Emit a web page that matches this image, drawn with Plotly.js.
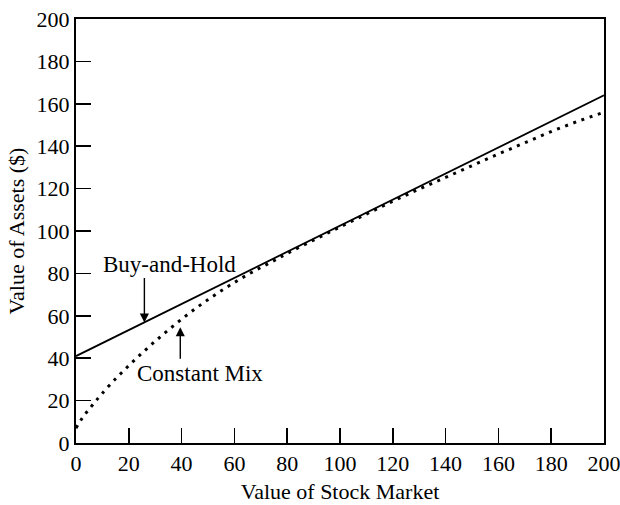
<!DOCTYPE html>
<html>
<head>
<meta charset="utf-8">
<script src="https://cdn.plot.ly/plotly-3.0.1.min.js"></script>
<style>
  html, body { margin: 0; padding: 0; background: #fff; }
  #chart { width: 620px; height: 505px; }
</style>
</head>
<body>
<div id="chart"></div>
<script>
// Buy-and-Hold strategy (straight line)
const buyHoldX = [0, 200];
const buyHoldY = [41, 164];

// Constant Mix strategy (dotted curve)
const constantMixX = [0, 2.5, 5, 7.5, 10, 15, 20, 25, 30, 35, 40, 45, 50, 55, 60, 65, 70, 75, 80, 90, 100, 110, 120, 130, 140, 150, 160, 170, 180, 190, 200];
const constantMixY = [7, 12, 16, 19.8, 23.5, 30.3, 36.5, 42.4, 48, 53.3, 58.4, 63.2, 67.6, 71.8, 75.7, 79.4, 82.8, 86, 89.4, 95.7, 101.9, 108, 114, 119.8, 125.3, 130.8, 136.3, 141.6, 146.9, 151.7, 156];

// Axis ticks
const xTicks = [0, 20, 40, 60, 80, 100, 120, 140, 160, 180, 200];
const yTicks = [0, 20, 40, 60, 80, 100, 120, 140, 160, 180, 200];

const FONT = 'Liberation Serif, Times New Roman, serif';

const traces = [
  {
    x: buyHoldX, y: buyHoldY, type: 'scatter', mode: 'lines',
    name: 'Buy-and-Hold',
    line: { color: '#000', width: 1.8 }
  },
  {
    x: constantMixX, y: constantMixY, type: 'scatter', mode: 'lines',
    name: 'Constant Mix',
    line: { color: '#000', width: 3, dash: '3px,5.7px', shape: 'spline', smoothing: 1 }
  }
];

const layout = {
  width: 620, height: 505,
  margin: { l: 76, r: 16, t: 19, b: 62 },
  paper_bgcolor: '#fff', plot_bgcolor: '#fff',
  showlegend: false,
  font: { family: FONT, size: 22, color: '#000' },
  xaxis: {
    range: [0, 200], tickvals: xTicks, ticktext: xTicks.map(String),
    ticks: 'inside', ticklen: 15, tickwidth: 1.5, tickcolor: '#000',
    showline: true, linewidth: 2, linecolor: '#000', mirror: true,
    showgrid: false, zeroline: false, ticklabeloverflow: 'allow',
    tickfont: { family: FONT, size: 22, color: '#000' },
    title: { text: 'Value of Stock Market', font: { family: FONT, size: 22, color: '#000' }, standoff: 8 }
  },
  yaxis: {
    range: [0, 200], tickvals: yTicks, ticktext: yTicks.map(String),
    ticks: 'inside', ticklen: 15, tickwidth: 1.5, tickcolor: '#000',
    showline: true, linewidth: 2, linecolor: '#000', mirror: true,
    showgrid: false, zeroline: false, ticklabeloverflow: 'allow',
    tickfont: { family: FONT, size: 22, color: '#000' },
    title: { text: 'Value of Assets ($)', font: { family: FONT, size: 22, color: '#000' }, standoff: 6 }
  },
  annotations: [
    { x: 35.4, y: 84, xref: 'x', yref: 'y', text: 'Buy-and-Hold', showarrow: false,
      font: { family: FONT, size: 23, color: '#000' } },
    { x: 25.9, y: 56.8, xref: 'x', yref: 'y', text: '', showarrow: true,
      ax: 0, ay: -46, arrowhead: 2, arrowsize: 1.3, arrowwidth: 1.4, arrowcolor: '#000', standoff: 0 },
    { x: 47, y: 33, xref: 'x', yref: 'y', text: 'Constant Mix', showarrow: false,
      font: { family: FONT, size: 23, color: '#000' } },
    { x: 39.5, y: 54.6, xref: 'x', yref: 'y', text: '', showarrow: true,
      ax: 0, ay: 33, arrowhead: 2, arrowsize: 1.3, arrowwidth: 1.4, arrowcolor: '#000', standoff: 0 }
  ]
};

Plotly.newPlot('chart', traces, layout, { staticPlot: true, displayModeBar: false });
</script>
</body>
</html>
